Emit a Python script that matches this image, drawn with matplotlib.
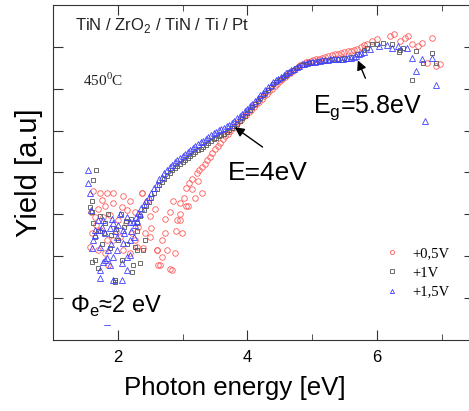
import numpy as np
import matplotlib
matplotlib.use("Agg")
import matplotlib.pyplot as plt

# photon energy [eV] and yield [a.u]
# +0,5V  (red circles)
red_E = [1.61, 1.72, 1.83, 1.92, 2.08, 2.19, 2.37, 1.69, 1.80, 1.92, 2.06, 1.645, 1.77, 1.88, 2.00,
         2.13, 2.26, 1.60, 1.72, 1.83, 1.92, 1.57, 1.69, 1.80, 1.85, 2.08, 2.26, 2.19, 2.42, 2.29,
         2.39, 2.68, 2.80, 2.65, 2.99, 2.96, 3.09, 2.76, 2.60, 2.85, 2.96, 2.80, 3.06, 2.91, 2.73,
         2.68, 2.60, 2.88, 2.62, 2.83, 2.37, 2.45, 2.57, 2.49, 2.52, 2.73, 2.96, 3.19, 3.30, 1.98,
         2.15, 2.32, 1.66, 1.75, 2.03, 2.50, 2.90, 3.02, 1.58, 2.22,
         3.06, 3.10, 3.15, 3.22, 3.26, 3.14, 3.24,
         3.30, 3.34, 3.38, 3.42, 3.46, 3.50, 3.54, 3.58, 3.62, 3.66, 3.70, 3.74, 3.78, 3.82, 3.86,
         3.90, 3.94, 3.98, 4.02, 4.06, 4.10, 4.14, 4.18, 4.22, 4.26, 4.30, 4.34, 4.38, 4.42, 4.46,
         4.50, 4.54, 4.58, 4.62, 4.66, 4.70, 4.74, 4.78, 4.82, 4.86, 4.90, 4.94, 4.98, 5.02, 5.06,
         5.10, 5.15, 5.20, 5.25, 5.30, 5.35, 5.40, 5.45, 5.50, 5.55, 5.60, 5.65, 5.70, 5.75, 5.80,
         5.85, 5.92, 6.01, 6.20, 6.27, 6.35, 6.43, 6.48, 6.55, 6.63, 6.69, 6.85, 6.77, 6.92, 6.98]
red_Y = [3.57, 3.52, 3.50, 3.52, 3.45, 3.33, 3.52, 3.14, 3.21, 3.26, 3.17, 2.93, 2.93, 2.98, 2.86,
         2.80, 3.05, 2.55, 2.62, 2.38, 2.38, 2.21, 2.14, 2.07, 1.79, 2.14, 2.38, 2.07, 2.55, 2.21,
         2.19, 1.98, 1.69, 1.79, 2.55, 2.86, 3.21, 2.14, 2.14, 3.33, 3.26, 3.05, 3.21, 2.86, 2.55,
         2.38, 2.14, 2.07, 1.79, 1.67, 3.50, 3.33, 3.14, 2.45, 2.67, 2.90, 3.02, 3.38, 3.50, 2.60,
         3.10, 2.70, 2.75, 3.35, 2.45, 2.95, 2.60, 3.40, 3.05, 2.55,
         3.64, 3.75, 3.85, 3.98, 4.05, 3.60, 3.80,
         4.12, 4.20, 4.29, 4.38, 4.46, 4.55, 4.63, 4.71, 4.79, 4.86, 4.93, 5.00, 5.07, 5.14, 5.20,
         5.26, 5.32, 5.38, 5.44, 5.50, 5.57, 5.63, 5.69, 5.75, 5.82, 5.88, 5.94, 6.00, 6.06, 6.12,
         6.18, 6.23, 6.28, 6.33, 6.38, 6.43, 6.48, 6.52, 6.56, 6.60, 6.63, 6.65, 6.67, 6.69, 6.70,
         6.71, 6.73, 6.75, 6.78, 6.80, 6.82, 6.84, 6.86, 6.88, 6.89, 6.90, 6.92, 6.96, 7.00, 7.04,
         7.08, 7.14, 7.19, 7.26, 7.31, 7.14, 7.21, 7.26, 7.07, 7.02, 7.10, 7.21, 6.62, 6.55, 6.60]

# +1V  (grey squares)
grey_E = [1.614, 1.60, 1.57, 1.645, 2.06, 2.22, 2.34, 1.95, 2.39, 2.26, 1.60, 1.69, 1.95, 2.23,
          2.29, 2.42, 1.60, 1.61, 1.66, 1.70, 1.80, 1.90, 2.00, 2.10, 2.20, 1.75, 1.85, 2.15, 2.30,
          1.65, 2.05, 1.78, 1.88, 2.12, 1.72, 1.98,
          2.30, 2.35, 2.40, 2.44, 2.48, 2.52, 2.56, 2.60, 2.64, 2.68, 2.72, 2.76, 2.80, 2.84, 2.88,
          2.92, 2.96, 3.00, 3.04, 3.08, 3.12, 3.16, 3.20, 3.24, 3.28, 3.32, 3.36, 3.40, 3.44, 3.48,
          3.52, 3.56, 3.60, 3.64, 3.68, 3.72, 3.76, 3.80, 3.84, 3.88, 3.92, 3.96, 4.00, 4.04, 4.08,
          4.12, 4.16, 4.20, 4.24, 4.28, 4.32, 4.36, 4.40, 4.45, 4.50, 4.55, 4.60, 4.65, 4.70, 4.75,
          4.80, 4.85, 4.90, 4.95, 5.00, 5.10, 5.20, 5.30, 5.40, 5.50, 5.60, 5.70, 5.80, 5.85, 5.92,
          6.00, 6.10, 6.23, 6.35, 6.40, 6.34, 6.61, 6.85, 6.92, 6.54, 6.71]
grey_Y = [3.81, 3.33, 3.17, 1.90, 1.90, 1.62, 1.83, 1.38, 2.14, 2.21, 1.86, 1.71, 1.43, 1.79,
          2.14, 2.38, 3.05, 2.79, 4.05, 2.60, 2.80, 2.50, 2.40, 2.70, 2.90, 2.30, 3.00, 2.30, 2.60,
          2.45, 3.00, 2.55, 2.20, 2.85, 2.95, 2.65,
          2.80, 2.95, 3.10, 3.20, 3.30, 3.40, 3.50, 3.60, 3.70, 3.78, 3.85, 3.92, 3.99, 4.05, 4.10,
          4.15, 4.20, 4.25, 4.30, 4.34, 4.39, 4.44, 4.48, 4.53, 4.57, 4.61, 4.65, 4.70, 4.75, 4.79,
          4.83, 4.86, 4.90, 4.93, 4.97, 5.01, 5.06, 5.11, 5.17, 5.23, 5.29, 5.36, 5.42, 5.49, 5.56,
          5.63, 5.70, 5.77, 5.84, 5.91, 5.98, 6.05, 6.11, 6.17, 6.23, 6.29, 6.34, 6.39, 6.44, 6.49,
          6.53, 6.57, 6.60, 6.62, 6.64, 6.67, 6.69, 6.71, 6.72, 6.74, 6.76, 6.82, 6.92, 6.98, 7.07,
          7.08, 7.10, 7.07, 6.93, 6.98, 6.88, 6.90, 6.86, 6.62, 6.21, 6.62]

# +1,5V  (blue triangles)
blue_E = [1.537, 1.537, 1.568, 1.691, 1.722, 1.80, 1.877, 1.923, 2.03, 2.14, 2.185, 1.985, 1.846,
          1.923, 1.80, 1.722, 1.722, 2.06, 2.14, 2.185, 2.077, 1.722, 1.614, 1.645, 1.77, 1.907,
          2.077, 2.26, 1.985, 1.877, 1.923, 2.06, 1.77, 1.83, 2.185, 2.14, 1.83, 1.65, 1.75, 1.95,
          2.00, 2.10, 2.20, 2.30, 2.35, 1.58, 1.60, 1.90, 2.25,
          2.24, 2.28, 2.32, 2.36, 2.40, 2.44, 2.48, 2.52, 2.56, 2.60, 2.64, 2.68, 2.72, 2.76, 2.80,
          2.84, 2.88, 2.92, 2.96, 3.00, 3.04, 3.08, 3.12, 3.16, 3.20, 3.24, 3.28, 3.32, 3.36, 3.40,
          3.44, 3.48, 3.52, 3.56, 3.60, 3.64, 3.68, 3.72, 3.76, 3.80, 3.84, 3.88, 3.92, 3.96, 4.00,
          4.04, 4.08, 4.12, 4.16, 4.20, 4.24, 4.28, 4.32, 4.36, 4.40, 4.44, 4.48, 4.52, 4.56, 4.60,
          4.64, 4.68, 4.72, 4.76, 4.80, 4.84, 4.88, 4.92, 4.96, 5.00, 5.04, 5.08, 5.12, 5.16, 5.20,
          5.24, 5.28, 5.32, 5.36, 5.40, 5.44, 5.48, 5.52, 5.56, 5.60, 5.64, 5.68, 5.72, 5.76, 5.80,
          5.89, 6.04, 6.15, 6.24, 6.32, 6.46, 6.54, 6.69, 6.85, 6.61, 6.91, 6.75]
blue_Y = [4.05, 3.74, 3.50, 2.86, 2.62, 2.55, 2.67, 2.79, 3.02, 2.93, 2.81, 2.45, 2.14,
          1.98, 1.90, 1.67, 1.48, 1.83, 1.98, 2.38, 2.31, 2.21, 2.38, 2.62, 2.86, 2.90,
          2.62, 2.74, 2.14, 1.79, 1.43, 1.43, 1.86, 1.95, 2.02, 1.67, 0.42, 2.50, 2.70, 2.60,
          2.75, 2.55, 2.60, 2.85, 3.00, 3.10, 2.20, 2.30, 2.45,
          2.82, 2.93, 3.04, 3.16, 3.25, 3.33, 3.42, 3.52, 3.62, 3.73, 3.84, 3.90, 3.98, 4.05, 4.12,
          4.19, 4.24, 4.30, 4.35, 4.40, 4.44, 4.49, 4.54, 4.59, 4.63, 4.68, 4.72, 4.76, 4.80, 4.85,
          4.90, 4.94, 4.97, 5.01, 5.04, 5.07, 5.10, 5.14, 5.19, 5.24, 5.30, 5.35, 5.40, 5.46, 5.52,
          5.58, 5.64, 5.71, 5.78, 5.85, 5.91, 5.97, 6.03, 6.10, 6.15, 6.20, 6.24, 6.29, 6.33, 6.37,
          6.41, 6.44, 6.48, 6.52, 6.55, 6.58, 6.60, 6.62, 6.63, 6.64, 6.65, 6.66, 6.67, 6.68, 6.68,
          6.69, 6.70, 6.70, 6.71, 6.71, 6.72, 6.72, 6.73, 6.73, 6.74, 6.75, 6.78, 6.82, 6.85, 6.88,
          6.95, 7.02, 7.05, 6.98, 7.02, 6.98, 6.74, 6.71, 6.74, 6.43, 6.10, 5.24]

labels = ["+0,5V", "+1V", "+1,5V"]

plt.rcParams['font.family'] = ['Liberation Sans', 'DejaVu Sans']

fig = plt.figure(figsize=(4.69, 4.11), dpi=100)
ax = fig.add_axes([53/469, 71/411, 421/469, 335/411])

ms = 4
ax.plot(red_E, red_Y, 'o', ms=ms, mfc='none', mec='#ff5a5a', mew=0.6, label=labels[0])
ax.plot(grey_E, grey_Y, 's', ms=ms - 0.5, mfc='none', mec='#555555', mew=0.6, label=labels[1])
ax.plot(blue_E, blue_Y, '^', ms=ms, mfc='none', mec='#4040ff', mew=0.6, label=labels[2])

ax.set_xlim(1, 7.5)
ax.set_ylim(0, 8)
ax.set_xticks([2, 4, 6])
ax.set_xticks([3, 5, 7], minor=True)
ax.set_yticks([1, 2, 3, 4, 5, 6, 7])
ax.set_yticklabels([])
ax.tick_params(which='both', direction='in', top=True, right=True, color='#333333')
ax.tick_params(which='major', length=7, labelsize=12, pad=7)
ax.tick_params(which='minor', length=4)
for s in ax.spines.values():
    s.set_color('#333333')

ax.set_xlabel("Photon energy [eV]", fontsize=18.6)
ax.xaxis.set_label_coords(0.432, -0.108)
ax.set_ylabel("Yield [a.u]", fontsize=21, labelpad=0.5)

ax.text(1.34, 7.5, "TiN / ZrO$_\\mathregular{2}$ / TiN / Ti / Pt", fontsize=12,
        va='center', color='#222222')
ax.text(1.46, 6.19, "450$^\\mathregular{0}$C", fontsize=11, va='center',
        family='Liberation Serif', color='#222222')
ax.text(1.26, 0.64, "Φ$_\\mathregular{e}$≈2 eV", fontsize=17, va='baseline',
        bbox=dict(facecolor='white', edgecolor='none', pad=4), zorder=5)

ax.text(3.70, 3.81, "E=4eV", fontsize=19, va='baseline')
ax.annotate("", xy=(3.77, 5.12), xytext=(4.27, 4.57),
            arrowprops=dict(arrowstyle='-|>', color='black', lw=1, mutation_scale=14))
ax.text(5.01, 5.43, "E$_\\mathregular{g}$=5.8eV", fontsize=18, va='baseline')
ax.annotate("", xy=(5.69, 6.74), xytext=(5.84, 6.19),
            arrowprops=dict(arrowstyle='-|>', color='black', lw=1, mutation_scale=14))

ax.legend(loc='center', bbox_to_anchor=(0.865, 0.200), frameon=False, markerscale=0.75,
          handlelength=1.0, handletextpad=0.9, labelspacing=0.4,
          prop={'family': 'Liberation Serif', 'size': 10.5})

fig.savefig("out.png", dpi=100)
